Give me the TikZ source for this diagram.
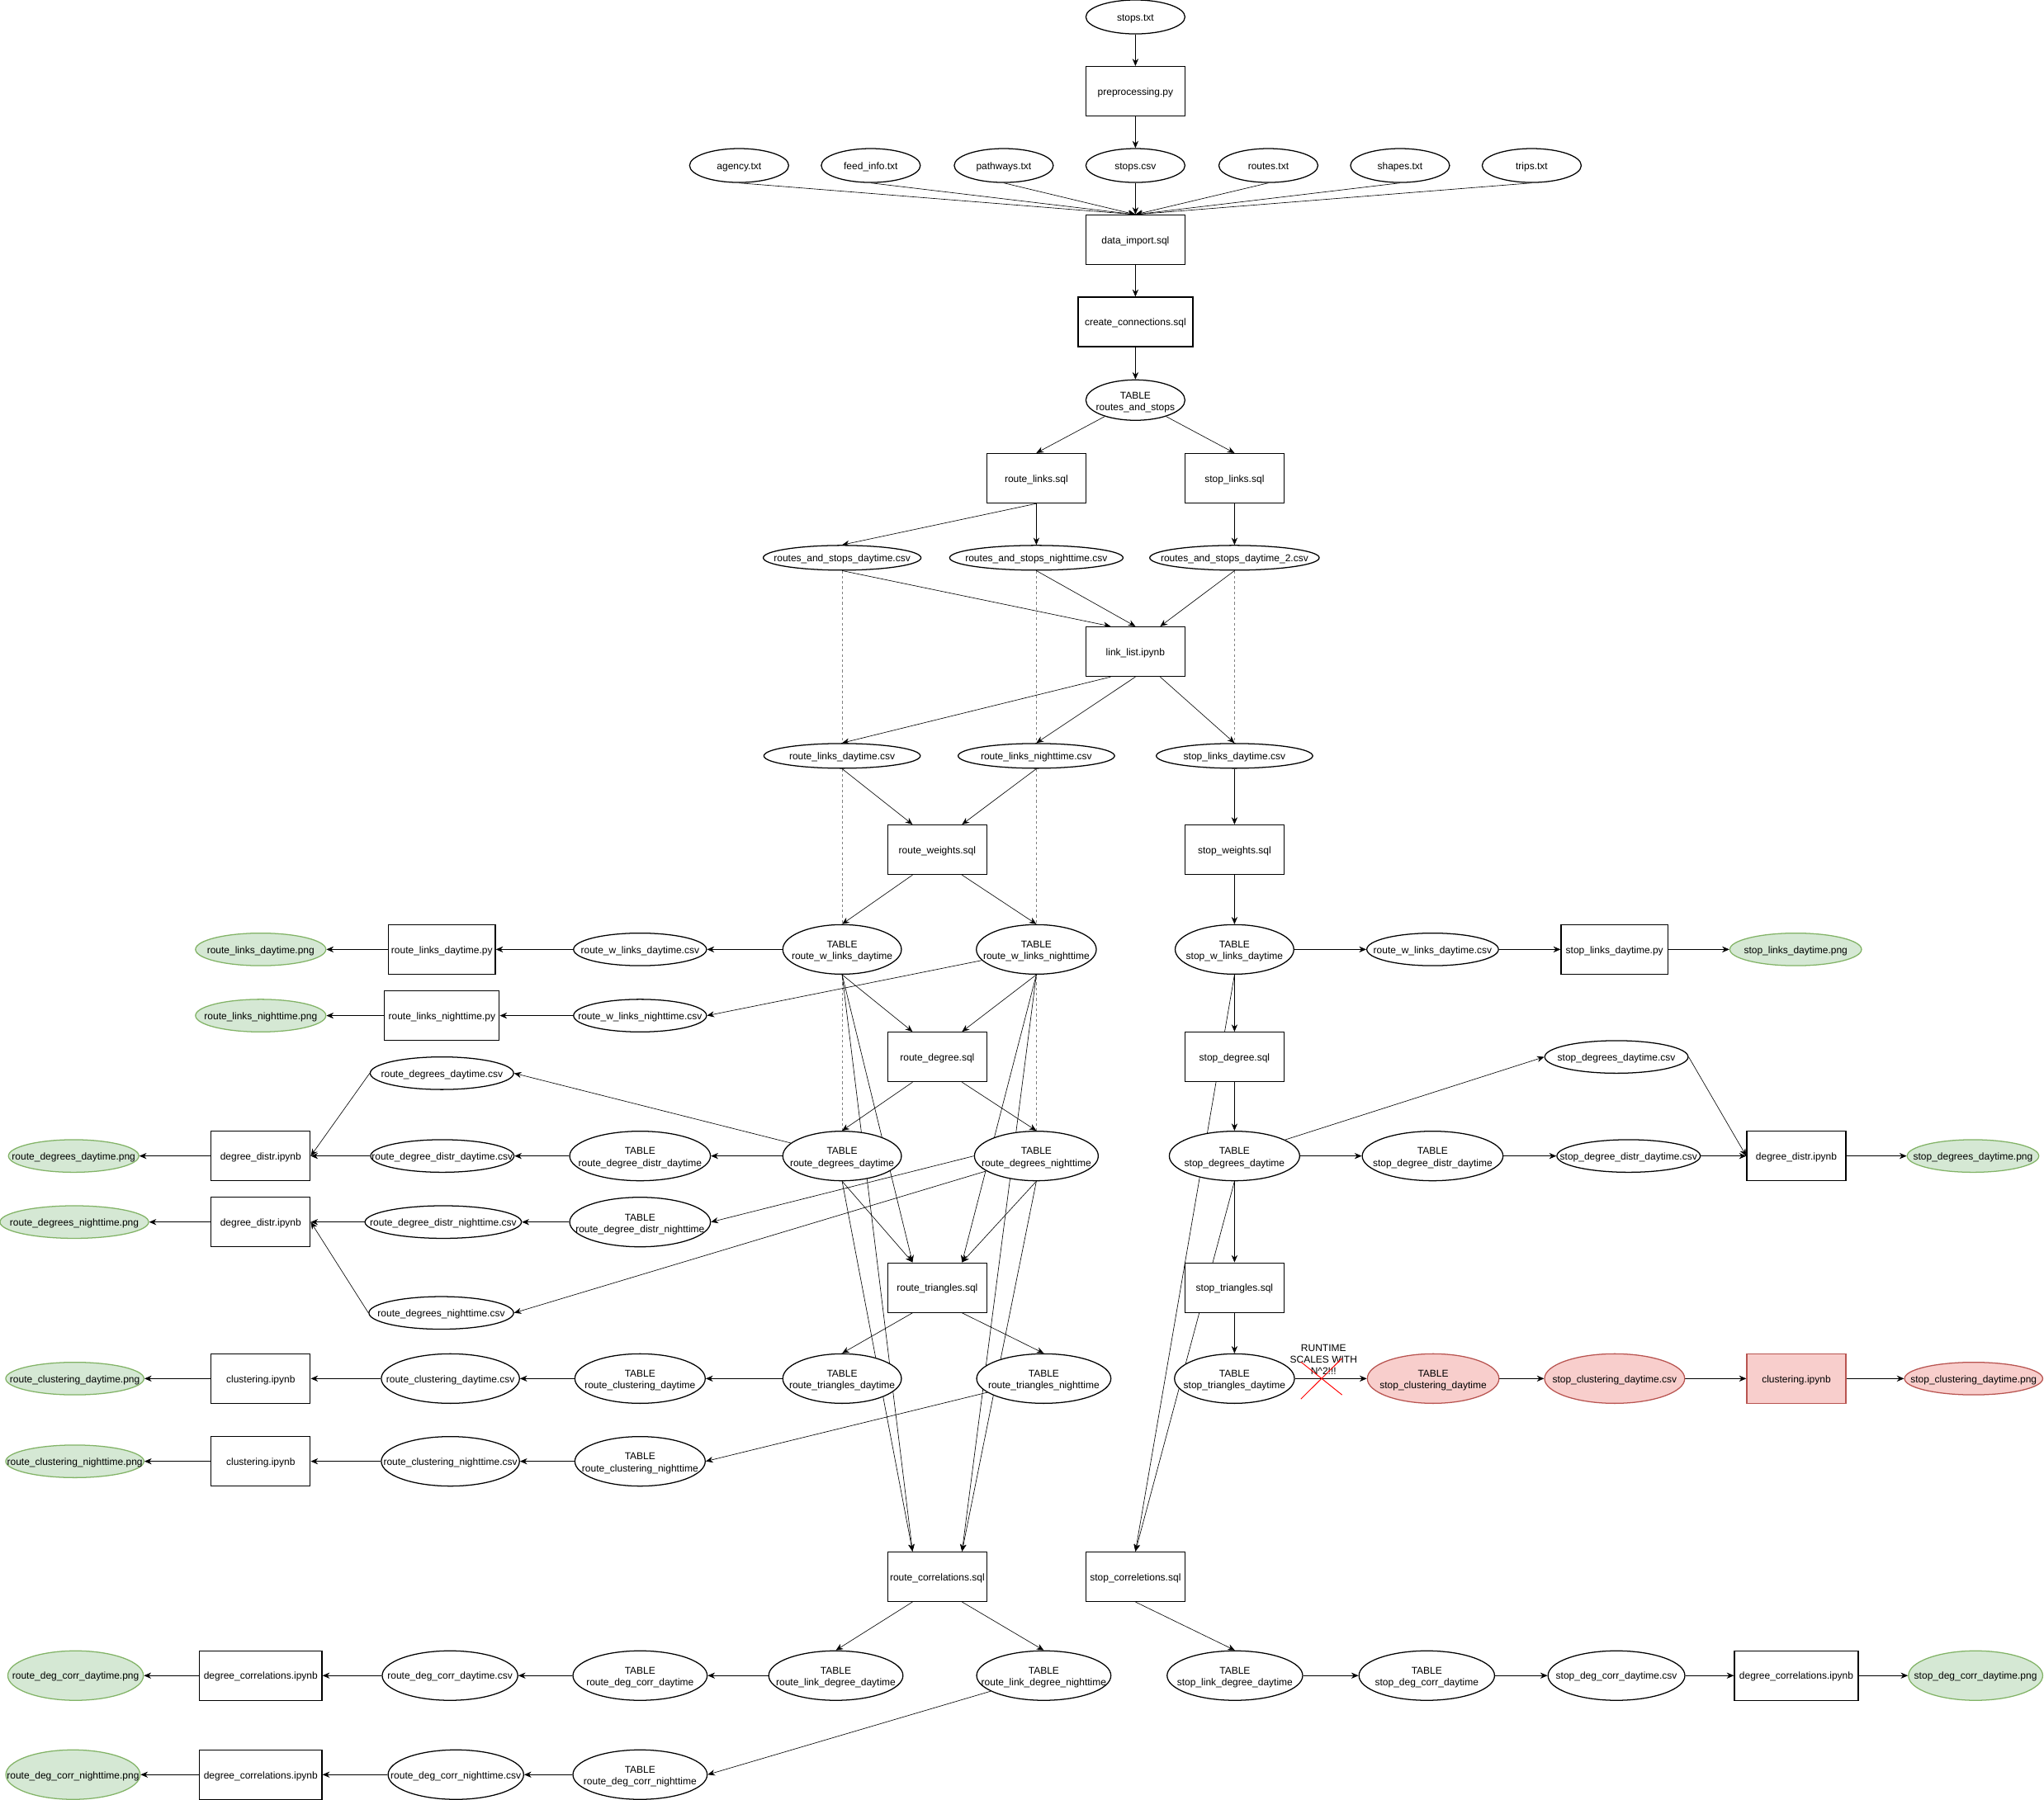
\documentclass[tikz,border=0pt]{standalone}
\usepackage{fontspec}
\setmainfont{Liberation Sans}
\usetikzlibrary{shapes.geometric,arrows.meta}
\pgfdeclarelayer{bg}
\pgfsetlayers{bg,main}
\definecolor{gfill}{HTML}{D5E8D4}
\definecolor{gline}{HTML}{82B366}
\definecolor{rfill}{HTML}{F8CECC}
\definecolor{rline}{HTML}{B85450}
\definecolor{dashc}{HTML}{808080}
\definecolor{xred}{HTML}{FF0000}
\newcommand{\one}[1]{\makebox[0pt][c]{\raisebox{-3pt}[0pt][0pt]{#1}}}
\newcommand{\two}[2]{\makebox[0pt][c]{\raisebox{-3.6pt}[0pt][0pt]{\begin{tabular}{@{}c@{}}#1\\#2\end{tabular}}}}
\begin{document}
\begin{tikzpicture}[x=1pt,y=-1pt,font=\fontsize{7.6}{8.9}\selectfont,line width=0.8pt,
  box/.style={draw,rectangle,fill=white,inner sep=0pt,minimum width=#1,minimum height=38},
  box/.default=76,
  ov/.style 2 args={draw,ellipse,fill=white,inner sep=0pt,minimum width=#1,minimum height=#2},
  gnode/.style={fill=gfill,draw=gline},
  rnode/.style={fill=rfill,draw=rline},
  arr/.style={-{Stealth[length=5.5pt,width=4.6pt]}},
  dsh/.style={draw=dashc,line width=0.6pt,dash pattern=on 2pt off 2pt}]
\useasboundingbox (0,0) rectangle (1568,1381);
% top
\node[ov={76}{26}] (stxt) at (871,13) {\one{stops.txt}};
\node[box] (prep) at (871,70) {\one{preprocessing.py}};
\node[ov={76}{26}] (agency) at (567,127) {\one{agency.txt}};
\node[ov={76}{26}] (feed) at (668,127) {\one{feed\_info.txt}};
\node[ov={76}{26}] (path) at (770,127) {\one{pathways.txt}};
\node[ov={76}{26}] (scsv) at (871,127) {\one{stops.csv}};
\node[ov={76}{26}] (routes) at (973,127) {\one{routes.txt}};
\node[ov={76}{26}] (shapes) at (1074,127) {\one{shapes.txt}};
\node[ov={76}{26}] (trips) at (1175,127) {\one{trips.txt}};
\node[box] (dimp) at (871,184) {\one{data\_import.sql}};
\node[box=88] (cc) at (871,247) {\one{create\_connections.sql}};
\node[ov={76}{31}] (ras) at (871,307) {\two{TABLE}{routes\_and\_stops}};
\node[box] (rl) at (795,367) {\one{route\_links.sql}};
\node[box] (sl) at (947,367) {\one{stop\_links.sql}};
\node[ov={121}{19}] (rsd) at (646,428) {\one{routes\_and\_stops\_daytime.csv}};
\node[ov={133}{19}] (rsn) at (795,428) {\one{routes\_and\_stops\_nighttime.csv}};
\node[ov={130}{19}] (rsd2) at (947,428) {\one{routes\_and\_stops\_daytime\_2.csv}};
\node[box] (ll) at (871,500) {\one{link\_list.ipynb}};
\node[ov={120}{19}] (rld) at (646,580) {\one{route\_links\_daytime.csv}};
\node[ov={120}{19}] (rln) at (795,580) {\one{route\_links\_nighttime.csv}};
\node[ov={120}{19}] (sld) at (947,580) {\one{stop\_links\_daytime.csv}};
\node[box] (rw) at (719,652) {\one{route\_weights.sql}};
\node[box] (sw) at (947,652) {\one{stop\_weights.sql}};
% row 728
\node[ov={100}{25},gnode] (rldpng) at (200,728.5) {\one{route\_links\_daytime.png}};
\node[box=82] (rldpy) at (339,728.5) {\one{route\_links\_daytime.py}};
\node[ov={102}{25}] (rwldcsv) at (491,728.5) {\one{route\_w\_links\_daytime.csv}};
\node[ov={91}{38}] (rwld) at (646,728.5) {\two{TABLE}{route\_w\_links\_daytime}};
\node[ov={92}{38}] (rwln) at (795,728.5) {\two{TABLE}{route\_w\_links\_nighttime}};
\node[ov={91}{38}] (swld) at (947,728.5) {\two{TABLE}{stop\_w\_links\_daytime}};
\node[ov={101}{25}] (swldcsv) at (1099,728.5) {\one{route\_w\_links\_daytime.csv}};
\node[box=82] (slpy) at (1238.5,728.5) {\one{stop\_links\_daytime.py}};
\node[ov={101}{25},gnode] (slpng) at (1377.5,728.5) {\one{stop\_links\_daytime.png}};
% row 779
\node[ov={100}{25},gnode] (rlnpng) at (200,779.3) {\one{route\_links\_nighttime.png}};
\node[box=88] (rlnpy) at (339,779.3) {\one{route\_links\_nighttime.py}};
\node[ov={102}{25}] (rwlncsv) at (491,779.3) {\one{route\_w\_links\_nighttime.csv}};
% degree
\node[box] (rd) at (719,811) {\one{route\_degree.sql}};
\node[box] (sdeg) at (947,811) {\one{stop\_degree.sql}};
\node[ov={110}{25}] (rddcsv) at (339,823.5) {\one{route\_degrees\_daytime.csv}};
\node[ov={110}{25}] (sddcsv) at (1240,811) {\one{stop\_degrees\_daytime.csv}};
% row 887
\node[ov={100}{25},gnode] (rddpng) at (56.5,887) {\one{route\_degrees\_daytime.png}};
\node[box] (dd1) at (200,887) {\one{degree\_distr.ipynb}};
\node[ov={110}{25}] (rdddcsv) at (339.3,887) {\one{route\_degree\_distr\_daytime.csv}};
\node[ov={108}{38}] (rdddt) at (491,887) {\two{TABLE}{route\_degree\_distr\_daytime}};
\node[ov={91}{38}] (rdd) at (646,887) {\two{TABLE}{route\_degrees\_daytime}};
\node[ov={95}{38}] (rdn) at (795,887) {\two{TABLE}{route\_degrees\_nighttime}};
\node[ov={100}{38}] (sdd) at (947,887) {\two{TABLE}{stop\_degrees\_daytime}};
\node[ov={108}{38}] (sdddt) at (1099,887) {\two{TABLE}{stop\_degree\_distr\_daytime}};
\node[ov={110}{25}] (sdddcsv) at (1249.3,887) {\one{stop\_degree\_distr\_daytime.csv}};
\node[box] (dd3) at (1378,887) {\one{degree\_distr.ipynb}};
\node[ov={101}{25},gnode] (sddpng) at (1513.5,887) {\one{stop\_degrees\_daytime.png}};
% row 938
\node[ov={114}{25},gnode] (rdnpng) at (57,937.7) {\one{route\_degrees\_nighttime.png}};
\node[box] (dd2) at (200,937.7) {\one{degree\_distr.ipynb}};
\node[ov={120}{25}] (rdndcsv) at (340,937.7) {\one{route\_degree\_distr\_nighttime.csv}};
\node[ov={108}{38}] (rdndt) at (491,937.7) {\two{TABLE}{route\_degree\_distr\_nighttime}};
\node[ov={111}{25}] (rdncsv) at (338.5,1007.4) {\one{route\_degrees\_nighttime.csv}};
\node[box] (rt) at (719,988) {\one{route\_triangles.sql}};
\node[box] (st) at (947,988) {\one{stop\_triangles.sql}};
% row 1057
\node[ov={106}{25},gnode] (rcdpng) at (57.4,1057.8) {\one{route\_clustering\_daytime.png}};
\node[box] (cl1) at (200,1057.8) {\one{clustering.ipynb}};
\node[ov={106}{38}] (rcdcsv) at (345.5,1057.8) {\one{route\_clustering\_daytime.csv}};
\node[ov={100}{38}] (rcdt) at (491,1057.8) {\two{TABLE}{route\_clustering\_daytime}};
\node[ov={91}{38}] (rtd) at (646,1057.8) {\two{TABLE}{route\_triangles\_daytime}};
\node[ov={103}{38}] (rtn) at (800.7,1057.8) {\two{TABLE}{route\_triangles\_nighttime}};
\node[ov={92}{38}] (std) at (947,1057.8) {\two{TABLE}{stop\_triangles\_daytime}};
\node[ov={101}{38},rnode] (sclust) at (1099.4,1057.8) {\two{TABLE}{stop\_clustering\_daytime}};
\node[ov={107.5}{38},rnode] (sccsv) at (1238.6,1057.8) {\one{stop\_clustering\_daytime.csv}};
\node[box,rnode] (cl3) at (1378,1057.8) {\one{clustering.ipynb}};
\node[ov={106}{25},rnode] (scpng) at (1514,1057.8) {\one{stop\_clustering\_daytime.png}};
% row 1121
\node[ov={106}{25},gnode] (rcnpng) at (57.4,1121.3) {\one{route\_clustering\_nighttime.png}};
\node[box] (cl2) at (200,1121.3) {\one{clustering.ipynb}};
\node[ov={106}{38}] (rcncsv) at (345.5,1121.3) {\one{route\_clustering\_nighttime.csv}};
\node[ov={100}{38}] (rcnt) at (491,1121.3) {\two{TABLE}{route\_clustering\_nighttime}};
% correlations
\node[box] (rc) at (719,1209.8) {\one{route\_correlations.sql}};
\node[box] (scorr) at (871,1209.8) {\one{stop\_correletions.sql}};
% row 1285
\node[ov={104}{38},gnode] (rdcpng) at (58,1285.7) {\one{route\_deg\_corr\_daytime.png}};
\node[box=94] (dc1) at (200,1285.7) {\one{degree\_correlations.ipynb}};
\node[ov={104}{38}] (rdccsv) at (345.2,1285.7) {\one{route\_deg\_corr\_daytime.csv}};
\node[ov={103}{38}] (rdcdt) at (491,1285.7) {\two{TABLE}{route\_deg\_corr\_daytime}};
\node[ov={103}{38}] (rldd) at (641.2,1285.7) {\two{TABLE}{route\_link\_degree\_daytime}};
\node[ov={103}{38}] (rldn) at (800.7,1285.7) {\two{TABLE}{route\_link\_degree\_nighttime}};
\node[ov={104}{38}] (sldd) at (947.3,1285.7) {\two{TABLE}{stop\_link\_degree\_daytime}};
\node[ov={104}{38}] (sdcdt) at (1094.5,1285.7) {\two{TABLE}{stop\_deg\_corr\_daytime}};
\node[ov={105}{38}] (sdccsv) at (1240,1285.7) {\one{stop\_deg\_corr\_daytime.csv}};
\node[box=95] (dc3) at (1378,1285.7) {\one{degree\_correlations.ipynb}};
\node[ov={103}{38},gnode] (sdcpng) at (1515.5,1285.7) {\one{stop\_deg\_corr\_daytime.png}};
% row 1361
\node[ov={103}{38},gnode] (rdcnpng) at (56,1361.7) {\one{route\_deg\_corr\_nighttime.png}};
\node[box=94] (dc2) at (200,1361.7) {\one{degree\_correlations.ipynb}};
\node[ov={104}{38}] (rdcncsv) at (349.7,1361.7) {\one{route\_deg\_corr\_nighttime.csv}};
\node[ov={103}{38}] (rdcnt) at (491,1361.7) {\two{TABLE}{route\_deg\_corr\_nighttime}};
% note
\node[align=center,inner sep=0pt] (note) at (1015.3,1043) {RUNTIME\\SCALES WITH\\N\textasciicircum 2!!!};
\draw[xred,line width=0.6pt] (997.9,1045) -- (1029.5,1070.3) (1029.5,1042.2) -- (997.9,1073.5);

\begin{pgfonlayer}{bg}
\fill[white] (0,0) rectangle (1568,1381);
\draw[dsh] (rsd.south) -- (rdd.north);
\draw[dsh] (rsn.south) -- (rdn.north);
\draw[dsh] (rsd2.south) -- (sld.north);
\begin{scope}[arr]
\draw (stxt.south) -- (prep.north);
\draw (prep.south) -- (scsv.north);
\foreach \n in {agency,feed,path,scsv,routes,shapes,trips} \draw (\n.south) -- (dimp.north);
\draw (dimp.south) -- (cc.north);
\draw (cc.south) -- (ras.north);
\draw (ras) -- (rl.north);
\draw (ras) -- (sl.north);
\draw (rl.south) -- (rsd.north);
\draw (rl.south) -- (rsn.north);
\draw (sl.south) -- (rsd2.north);
\draw (rsd.south) -- ([xshift=-19pt]ll.north);
\draw (rsn.south) -- (ll.north);
\draw (rsd2.south) -- ([xshift=19pt]ll.north);
\draw ([xshift=-19pt]ll.south) -- (rld.north);
\draw (ll.south) -- (rln.north);
\draw ([xshift=19pt]ll.south) -- (sld.north);
\draw (rld.south) -- ([xshift=-19pt]rw.north);
\draw (rln.south) -- ([xshift=19pt]rw.north);
\draw (sld.south) -- (sw.north);
\draw ([xshift=-19pt]rw.south) -- (rwld.north);
\draw ([xshift=19pt]rw.south) -- (rwln.north);
\draw (sw.south) -- (swld.north);
\draw (rwld.west) -- (rwldcsv.east);
\draw (rwldcsv.west) -- (rldpy.east);
\draw (rldpy.west) -- (rldpng.east);
\draw (rwln) -- (rwlncsv.east);
\draw (rwlncsv.west) -- (rlnpy.east);
\draw (rlnpy.west) -- (rlnpng.east);
\draw (swld.east) -- (swldcsv.west);
\draw (swldcsv.east) -- (slpy.west);
\draw (slpy.east) -- (slpng.west);
\draw (rwld.south) -- ([xshift=-19pt]rd.north);
\draw (rwln.south) -- ([xshift=19pt]rd.north);
\draw (rwld.south) -- ([xshift=-19pt]rt.north);
\draw (rwld.south) -- ([xshift=-19pt]rc.north);
\draw (rwln.south) -- ([xshift=19pt]rt.north);
\draw (rwln.south) -- ([xshift=19pt]rc.north);
\draw ([xshift=-19pt]rd.south) -- (rdd.north);
\draw ([xshift=19pt]rd.south) -- (rdn.north);
\draw (rdd.south) -- ([xshift=-19pt]rt.north);
\draw (rdd.south) -- ([xshift=-19pt]rc.north);
\draw (rdn.south) -- ([xshift=19pt]rt.north);
\draw (rdn.south) -- ([xshift=19pt]rc.north);
\draw (rdd) -- (rddcsv.east);
\draw (rdd.west) -- (rdddt.east);
\draw (rdddt.west) -- (rdddcsv.east);
\draw (rdddcsv.west) -- (dd1.east);
\draw (rddcsv.west) -- (dd1.east);
\draw (dd1.west) -- (rddpng.east);
\draw (rdn.west) -- (rdndt.east);
\draw (rdn) -- (rdncsv.east);
\draw (rdndt.west) -- (rdndcsv.east);
\draw (rdndcsv.west) -- (dd2.east);
\draw (rdncsv.west) -- (dd2.east);
\draw (dd2.west) -- (rdnpng.east);
\draw ([xshift=-19pt]rt.south) -- (rtd.north);
\draw ([xshift=19pt]rt.south) -- (rtn.north);
\draw (rtd.west) -- (rcdt.east);
\draw (rcdt.west) -- (rcdcsv.east);
\draw (rcdcsv.west) -- (cl1.east);
\draw (cl1.west) -- (rcdpng.east);
\draw (rtn) -- (rcnt.east);
\draw (rcnt.west) -- (rcncsv.east);
\draw (rcncsv.west) -- (cl2.east);
\draw (cl2.west) -- (rcnpng.east);
\draw ([xshift=-19pt]rc.south) -- (rldd.north);
\draw ([xshift=19pt]rc.south) -- (rldn.north);
\draw (rldd.west) -- (rdcdt.east);
\draw (rdcdt.west) -- (rdccsv.east);
\draw (rdccsv.west) -- (dc1.east);
\draw (dc1.west) -- (rdcpng.east);
\draw (rldn) -- (rdcnt.east);
\draw (rdcnt.west) -- (rdcncsv.east);
\draw (rdcncsv.west) -- (dc2.east);
\draw (dc2.west) -- (rdcnpng.east);
% stop side
\draw (swld.south) -- (sdeg.north);
\draw (swld.south) -- (scorr.north);
\draw (sdeg.south) -- (sdd.north);
\draw (sdd) -- (sddcsv.west);
\draw (sdd.east) -- (sdddt.west);
\draw (sdddt.east) -- (sdddcsv.west);
\draw (sdddcsv.east) -- (dd3.west);
\draw (sddcsv.east) -- (dd3.west);
\draw (dd3.east) -- (sddpng.west);
\draw (sdd.south) -- (st.north);
\draw (sdd.south) -- (scorr.north);
\draw (st.south) -- (std.north);
\draw (std.east) -- (sclust.west);
\draw (sclust.east) -- (sccsv.west);
\draw (sccsv.east) -- (cl3.west);
\draw (cl3.east) -- (scpng.west);
\draw (scorr.south) -- (sldd.north);
\draw (sldd.east) -- (sdcdt.west);
\draw (sdcdt.east) -- (sdccsv.west);
\draw (sdccsv.east) -- (dc3.west);
\draw (dc3.east) -- (sdcpng.west);
\end{scope}
\end{pgfonlayer}
\end{tikzpicture}
\end{document}
